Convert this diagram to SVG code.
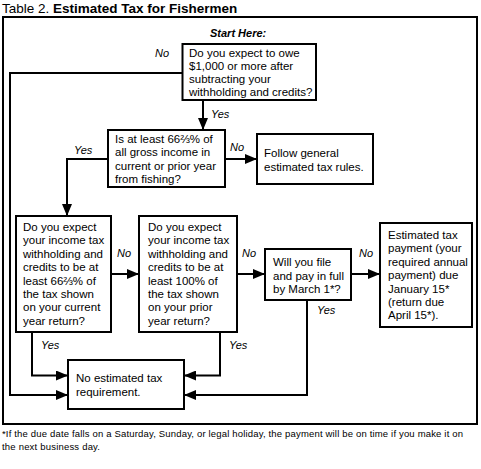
<svg xmlns="http://www.w3.org/2000/svg" width="481" height="469" viewBox="0 0 481 469">
<style>
  .box { fill: #fff; stroke: #000; stroke-width: 2; }
  .frame { fill: none; stroke: #000; stroke-width: 2; }
  .t { font-family: "Liberation Sans", Arial, sans-serif; font-size: 11.5px; fill: #000; }
  .lbl { font-family: "Liberation Sans", Arial, sans-serif; font-size: 11px; font-style: italic; fill: #000; }
  .conn { fill: none; stroke: #000; stroke-width: 2; }
  .title { font-family: "Liberation Sans", Arial, sans-serif; font-size: 13.5px; fill: #000; }
  .foot { font-family: "Liberation Sans", Arial, sans-serif; font-size: 9.5px; fill: #000; }
</style>
<defs>
  <marker id="arr" viewBox="0 0 12 10" refX="12" refY="5" markerWidth="12" markerHeight="10" markerUnits="userSpaceOnUse" orient="auto">
    <path d="M0,0 L12,5 L0,10 z" fill="#000"/>
  </marker>
</defs>
<rect width="481" height="469" fill="#fff"/>
<text class="title" x="2" y="13">Table 2. <tspan font-weight="bold">Estimated Tax for Fishermen</tspan></text>
<rect class="frame" x="3" y="17" width="474" height="407"/>
<text class="lbl" x="210" y="37" font-weight="bold" font-size="11.5">Start Here:</text>

<g id="connectors">
  <path class="conn" d="M203,100 V130" marker-end="url(#arr)"/>
  <path class="conn" d="M182.5,73 H10 V395 H68" marker-end="url(#arr)"/>
  <path class="conn" d="M108,159 H67 V216" marker-end="url(#arr)"/>
  <path class="conn" d="M225,159 H257" marker-end="url(#arr)"/>
  <path class="conn" d="M111,274 H139" marker-end="url(#arr)"/>
  <path class="conn" d="M237,274 H265" marker-end="url(#arr)"/>
  <path class="conn" d="M351,274 H380" marker-end="url(#arr)"/>
  <path class="conn" d="M32,332 V375.5 H68" marker-end="url(#arr)"/>
  <path class="conn" d="M220,332 V375.5 H184" marker-end="url(#arr)"/>
  <path class="conn" d="M307,300 V395 H184" marker-end="url(#arr)"/>
  <text class="lbl" x="155" y="57">No</text>
  <text class="lbl" x="211" y="118">Yes</text>
  <text class="lbl" x="74" y="154">Yes</text>
  <text class="lbl" x="230" y="151">No</text>
  <text class="lbl" x="117" y="257">No</text>
  <text class="lbl" x="242" y="257">No</text>
  <text class="lbl" x="359" y="257">No</text>
  <text class="lbl" x="317" y="314">Yes</text>
  <text class="lbl" x="41" y="349">Yes</text>
  <text class="lbl" x="229" y="349">Yes</text>
</g>

<g id="q1">
  <rect class="box" x="182.5" y="44" width="133.5" height="56"/>
  <text class="t" x="189" y="57">Do you expect to owe</text>
  <text class="t" x="189" y="70">$1,000 or more after</text>
  <text class="t" x="189" y="83">subtracting your</text>
  <text class="t" x="189" y="96">withholding and credits?</text>
</g>

<g id="q2">
  <rect class="box" x="108" y="130" width="117" height="57"/>
  <text class="t" x="115" y="143">Is at least 66⅔% of</text>
  <text class="t" x="115" y="156.3">all gross income in</text>
  <text class="t" x="115" y="169.6">current or prior year</text>
  <text class="t" x="115" y="183">from fishing?</text>
</g>

<g id="general">
  <rect class="box" x="257" y="134" width="116" height="50"/>
  <text class="t" x="264" y="157">Follow general</text>
  <text class="t" x="264" y="171">estimated tax rules.</text>
</g>

<g id="q3">
  <rect class="box" x="16" y="216" width="95" height="116"/>
  <text class="t" x="23" y="231">Do you expect</text>
  <text class="t" x="23" y="244.4">your income tax</text>
  <text class="t" x="23" y="257.8">withholding and</text>
  <text class="t" x="23" y="271.2">credits to be at</text>
  <text class="t" x="23" y="284.6">least 66⅔% of</text>
  <text class="t" x="23" y="298">the tax shown</text>
  <text class="t" x="23" y="311.4">on your current</text>
  <text class="t" x="23" y="324.8">year return?</text>
</g>

<g id="q4">
  <rect class="box" x="139" y="216" width="98" height="116"/>
  <text class="t" x="148" y="231">Do you expect</text>
  <text class="t" x="148" y="244.4">your income tax</text>
  <text class="t" x="148" y="257.8">withholding and</text>
  <text class="t" x="148" y="271.2">credits to be at</text>
  <text class="t" x="148" y="284.6">least 100% of</text>
  <text class="t" x="148" y="298">the tax shown</text>
  <text class="t" x="148" y="311.4">on your prior</text>
  <text class="t" x="148" y="324.8">year return?</text>
</g>

<g id="q5">
  <rect class="box" x="265" y="249" width="86" height="51"/>
  <text class="t" x="273" y="266">Will you file</text>
  <text class="t" x="273" y="279.5">and pay in full</text>
  <text class="t" x="273" y="293">by March 1*?</text>
</g>

<g id="payment">
  <rect class="box" x="380" y="223" width="92" height="104"/>
  <text class="t" x="388" y="239">Estimated tax</text>
  <text class="t" x="388" y="252.4">payment (your</text>
  <text class="t" x="388" y="265.8">required annual</text>
  <text class="t" x="388" y="279.2">payment) due</text>
  <text class="t" x="388" y="292.6">January 15*</text>
  <text class="t" x="388" y="306">(return due</text>
  <text class="t" x="388" y="319.4">April 15*).</text>
</g>

<g id="none">
  <rect class="box" x="68" y="360" width="116" height="49"/>
  <text class="t" x="76" y="382">No estimated tax</text>
  <text class="t" x="76" y="395.5">requirement.</text>
</g>

<text class="foot" x="2" y="437" textLength="461" lengthAdjust="spacing">*If the due date falls on a Saturday, Sunday, or legal holiday, the payment will be on time if you make it on</text>
<text class="foot" x="2" y="450" textLength="98" lengthAdjust="spacing">the next business day.</text>
</svg>
